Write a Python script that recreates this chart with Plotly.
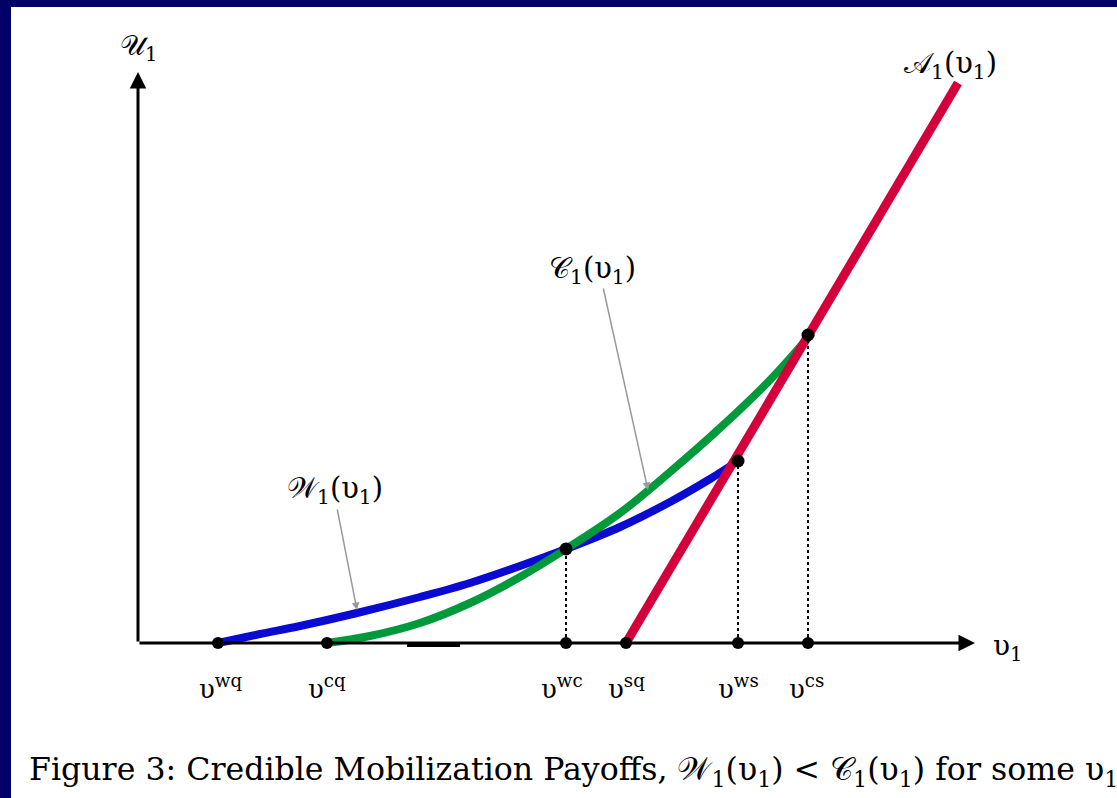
import plotly.graph_objects as go

# ---------------- data (units: horizontal v1, vertical U1) ----------------
tick_names = ["wq", "cq", "wc", "sq", "ws", "cs"]
tick_x = [0.80, 1.89, 4.28, 4.88, 6.00, 6.70]

# intersection points (v, U)
cross_x = [4.28, 6.00, 6.70]
cross_y = [0.94, 1.82, 3.08]

# W1(v1) - blue
w_x = [0.80, 1.22, 1.62, 2.19, 2.82, 3.32, 3.82, 4.28, 4.82, 5.32, 5.72, 6.00]
w_y = [0.00, 0.09, 0.17, 0.30, 0.46, 0.60, 0.77, 0.94, 1.16, 1.41, 1.64, 1.82]

# C1(v1) - green
c_x = [1.89, 2.32, 2.82, 3.32, 3.82, 4.28, 4.82, 5.32, 5.82, 6.32, 6.74]
c_y = [0.00, 0.07, 0.20, 0.40, 0.66, 0.94, 1.30, 1.71, 2.15, 2.63, 3.10]

# A1(v1) - red
a_x = [4.88, 8.20]
a_y = [0.00, 5.60]

# short heavy segment lying on the axis
seg_x = [2.69, 3.22]
seg_y = [-0.015, -0.015]

x_axis_end = 8.37
y_axis_end = 5.71

NAVY = "#000066"
RED = "#D4003C"
BLUE = "#0A0AD2"
GREEN = "#009A3A"
SERIF = "DejaVu Serif"

fig = go.Figure()

fig.add_trace(go.Scatter(x=seg_x, y=seg_y, mode="lines",
                         line=dict(color="black", width=5), hoverinfo="skip"))
fig.add_trace(go.Scatter(x=w_x, y=w_y, mode="lines", line_shape="spline",
                         line=dict(color=BLUE, width=8), hoverinfo="skip"))
fig.add_trace(go.Scatter(x=c_x, y=c_y, mode="lines", line_shape="spline",
                         line=dict(color=GREEN, width=8), hoverinfo="skip"))
fig.add_trace(go.Scatter(x=a_x, y=a_y, mode="lines",
                         line=dict(color=RED, width=9), hoverinfo="skip"))

# dotted drop lines
for cx, cy in zip(cross_x, cross_y):
    fig.add_trace(go.Scatter(x=[cx, cx], y=[0, cy], mode="lines",
                             line=dict(color="black", width=2, dash="dot"),
                             hoverinfo="skip"))

# markers
fig.add_trace(go.Scatter(x=tick_x, y=[0] * len(tick_x), mode="markers",
                         marker=dict(color="black", size=12), hoverinfo="skip"))
fig.add_trace(go.Scatter(x=cross_x, y=cross_y, mode="markers",
                         marker=dict(color="black", size=13), hoverinfo="skip"))

annotations = []
# axes arrows
annotations.append(dict(x=x_axis_end, y=0, ax=0, ay=0, xref="x", yref="y",
                        axref="x", ayref="y", text="", showarrow=True,
                        arrowhead=2, arrowsize=1.1, arrowwidth=3, arrowcolor="black"))
annotations.append(dict(x=0, y=y_axis_end, ax=0, ay=0, xref="x", yref="y",
                        axref="x", ayref="y", text="", showarrow=True,
                        arrowhead=2, arrowsize=1.1, arrowwidth=3, arrowcolor="black"))

# pointer arrows
annotations.append(dict(x=5.10, y=1.53, ax=4.65, ay=3.56, xref="x", yref="y",
                        axref="x", ayref="y", text="", showarrow=True,
                        arrowhead=2, arrowsize=1, arrowwidth=1.5, arrowcolor="#999999"))
annotations.append(dict(x=2.19, y=0.33, ax=1.99, ay=1.35, xref="x", yref="y",
                        axref="x", ayref="y", text="", showarrow=True,
                        arrowhead=2, arrowsize=1, arrowwidth=1.5, arrowcolor="#999999"))

def lab(x, y, text, size=29):
    annotations.append(dict(x=x, y=y, xref="x", yref="y", text=text, showarrow=False,
                            font=dict(family=SERIF, size=size, color="black"),
                            xanchor="center", yanchor="middle"))

lab(0.0, 5.96, "𝒰<sub>1</sub>", size=28)
lab(8.12, 5.78, "𝒜<sub>1</sub>(υ<sub>1</sub>)")
lab(4.54, 3.73, "𝒞<sub>1</sub>(υ<sub>1</sub>)")
lab(1.97, 1.53, "𝒲<sub>1</sub>(υ<sub>1</sub>)")
lab(8.70, -0.04, "υ<sub>1</sub>", size=28)

label_dx = [0.02, 0.0, -0.04, 0.0, 0.0, -0.02]
for tx, nm, d in zip(tick_x, tick_names, label_dx):
    lab(tx + d, -0.44, "υ<sup>" + nm + "</sup>", size=26)

# caption
annotations.append(dict(x=27 / 1117, y=1 - 771 / 798, xref="paper", yref="paper",
                        text="Figure 3: Credible Mobilization Payoffs, "
                             "𝒲<sub>1</sub>(υ<sub>1</sub>) &lt; 𝒞<sub>1</sub>(υ<sub>1</sub>) for some υ<sub>1</sub>",
                        showarrow=False, xanchor="left", yanchor="middle",
                        font=dict(family=SERIF, size=31.6, color="black")))

shapes = [
    dict(type="rect", xref="paper", yref="paper", x0=0, x1=11 / 1117, y0=0, y1=1,
         fillcolor=NAVY, line=dict(width=0), layer="below"),
    dict(type="rect", xref="paper", yref="paper", x0=0, x1=1, y0=1 - 7 / 798, y1=1,
         fillcolor=NAVY, line=dict(width=0), layer="below"),
]

fig.update_layout(
    width=1117, height=798,
    margin=dict(l=0, r=0, t=0, b=0),
    paper_bgcolor="white", plot_bgcolor="white",
    showlegend=False,
    xaxis=dict(range=[-1.38, 9.79], visible=False, domain=[0, 1]),
    yaxis=dict(range=[-1.55, 6.43], visible=False, domain=[0, 1]),
    annotations=annotations, shapes=shapes,
)

fig.write_html("out.html")
